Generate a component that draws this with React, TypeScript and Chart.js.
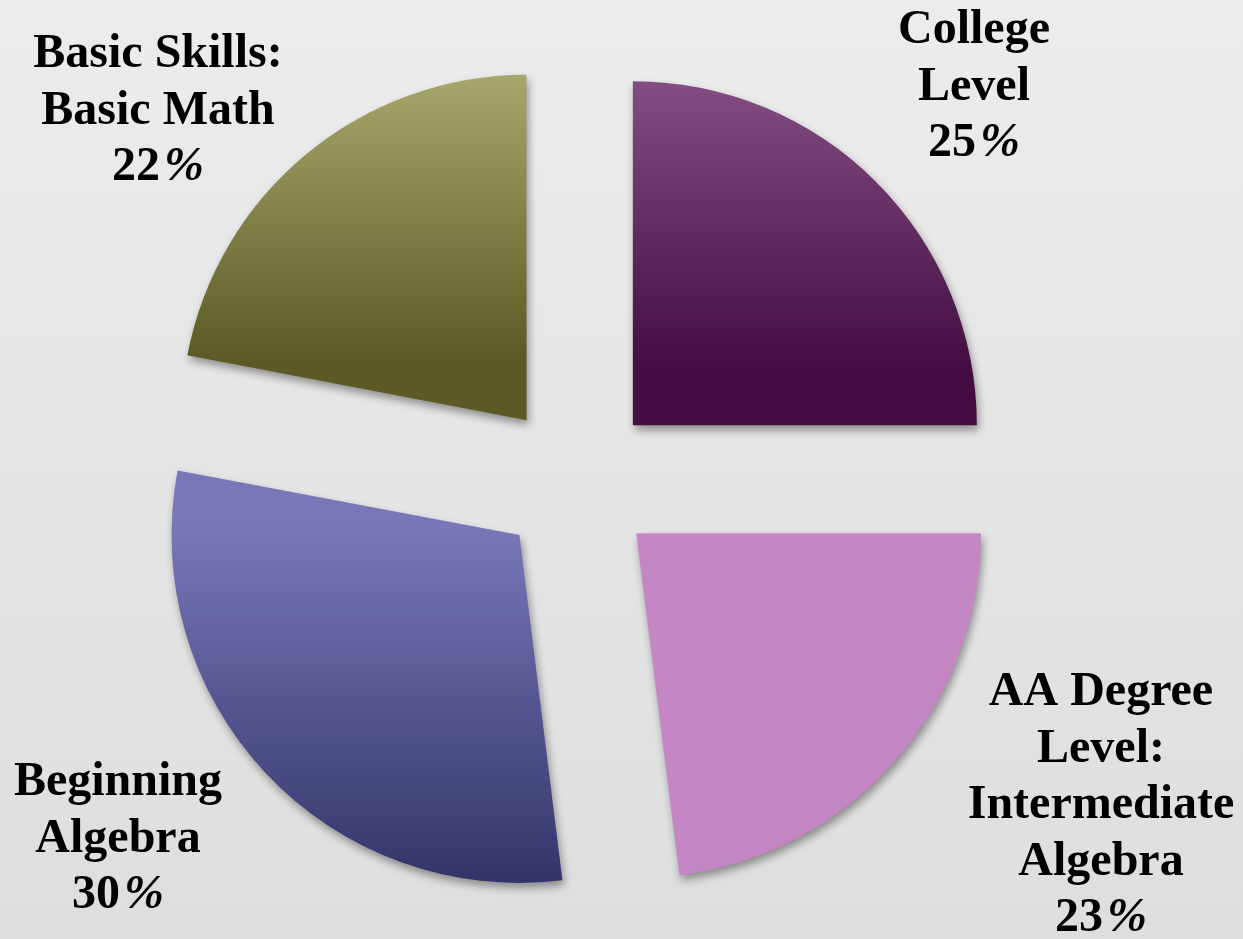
import React, { useEffect, useRef } from "react";
import { Chart, registerables } from "chart.js";

Chart.register(...registerables);

// ---- data ----
const categories: string[][] = [
  ["College", "Level"],
  ["AA Degree", "Level:", "Intermediate", "Algebra"],
  ["Beginning", "Algebra"],
  ["Basic Skills:", "Basic Math"],
];
const shares: number[] = [25, 23, 30, 22];
const percentValues: string[] = ["25", "23", "30", "22"];

// ---- styles / layout ----
const topColors = ["#8f5a8f", "#c487c4", "#7878b9", "#b8b87b"];
const bottomColors = ["#440c40", "#c385c3", "#282b5e", "#5b5a25"];
const EXPLODE = 316; // Chart.js arc offset (translation = offset / 4)
const CANVAS_SHIFT = 40; // canvas extends above the viewport by this much
const CANVAS_H = 1040;
const LABEL_ANCHORS: [number, number][] = [
  [974, 43],
  [1101, 705],
  [118, 795],
  [158, 67],
];
const LINE_H = 56.5;
const FONT = 'bold 48px "Liberation Serif", "Times New Roman", serif';
const FONT_PCT = 'italic bold 48px "Liberation Serif", "Times New Roman", serif';

function sliceFill(c: any) {
  const chart = c.chart;
  const i = c.dataIndex;
  const area = chart.chartArea;
  const meta = chart.getDatasetMeta(0);
  const R = meta && meta.controller ? meta.controller.outerRadius : undefined;
  if (!area || !R) return topColors[i];
  const total = shares.reduce((a, b) => a + b, 0);
  let start = -Math.PI / 2;
  for (let j = 0; j < i; j++) start += (shares[j] / total) * 2 * Math.PI;
  const end = start + (shares[i] / total) * 2 * Math.PI;
  const mid = (start + end) / 2;
  const cy = (area.top + area.bottom) / 2 + (Math.sin(mid) * EXPLODE) / 4;
  const ys = [cy, cy + R * Math.sin(start), cy + R * Math.sin(end)];
  for (const a of [-Math.PI / 2, Math.PI / 2, (3 * Math.PI) / 2]) {
    if (a >= start && a <= end) ys.push(cy + R * Math.sin(a));
  }
  const g = chart.ctx.createLinearGradient(0, Math.min(...ys), 0, Math.max(...ys));
  g.addColorStop(0, topColors[i]);
  g.addColorStop(1, bottomColors[i]);
  return g;
}

const backgroundPlugin = {
  id: "bgFill",
  beforeDraw(chart: any) {
    const { ctx, width, height } = chart;
    ctx.save();
    const g = ctx.createLinearGradient(0, CANVAS_SHIFT, 0, CANVAS_SHIFT + 939);
    g.addColorStop(0, "#ececec");
    g.addColorStop(1, "#dedede");
    ctx.fillStyle = g;
    ctx.fillRect(0, 0, width, height);
    ctx.restore();
  },
};

const shadowPlugin = {
  id: "sliceShadow",
  beforeDatasetsDraw(chart: any) {
    const ctx = chart.ctx;
    ctx.save();
    ctx.shadowColor = "rgba(0,0,0,0.38)";
    ctx.shadowBlur = 9;
    ctx.shadowOffsetX = 2;
    ctx.shadowOffsetY = 5;
  },
  afterDatasetsDraw(chart: any) {
    chart.ctx.restore();
  },
};

const labelPlugin = {
  id: "sliceLabels",
  afterDraw(chart: any) {
    const ctx = chart.ctx;
    const labels = chart.data.labels as string[][];
    ctx.save();
    ctx.fillStyle = "#000000";
    ctx.textBaseline = "alphabetic";
    labels.forEach((lab, i) => {
      const [x, y0] = LABEL_ANCHORS[i];
      const baseY = y0 + CANVAS_SHIFT;
      ctx.font = FONT;
      ctx.textAlign = "center";
      lab.forEach((ln, k) => ctx.fillText(ln, x, baseY + k * LINE_H));
      // percentage line: number upright, % sign slanted like the original
      const yP = baseY + lab.length * LINE_H;
      const num = percentValues[i];
      ctx.font = FONT;
      const wNum = ctx.measureText(num).width;
      ctx.font = FONT_PCT;
      const wPct = ctx.measureText("%").width;
      const gap = 4;
      const left = x - (wNum + gap + wPct) / 2;
      ctx.textAlign = "left";
      ctx.font = FONT;
      ctx.fillText(num, left, yP);
      ctx.font = FONT_PCT;
      ctx.fillText("%", left + wNum + gap, yP);
    });
    ctx.restore();
  },
};

export default function App() {
  const ref = useRef<HTMLCanvasElement | null>(null);

  useEffect(() => {
    if (!ref.current) return;
    const chart = new Chart(ref.current, {
      type: "pie",
      data: {
        labels: categories,
        datasets: [
          {
            data: shares,
            backgroundColor: sliceFill as any,
            borderWidth: 0,
            hoverBorderWidth: 0,
            hoverOffset: 0,
            offset: EXPLODE,
            clip: false as any,
          },
        ],
      },
      options: {
        animation: false,
        responsive: true,
        maintainAspectRatio: false,
        events: [],
        layout: { padding: { left: 75, right: 164, top: 19, bottom: 17 } },
        plugins: {
          legend: { display: false },
          tooltip: { enabled: false },
          title: { display: false },
        },
      },
      plugins: [backgroundPlugin, shadowPlugin, labelPlugin],
    });
    return () => chart.destroy();
  }, []);

  return (
    <div
      style={{
        position: "fixed",
        left: 0,
        top: `${-CANVAS_SHIFT}px`,
        width: "1243px",
        height: `${CANVAS_H}px`,
        overflow: "hidden",
      }}
    >
      <canvas ref={ref} />
    </div>
  );
}
